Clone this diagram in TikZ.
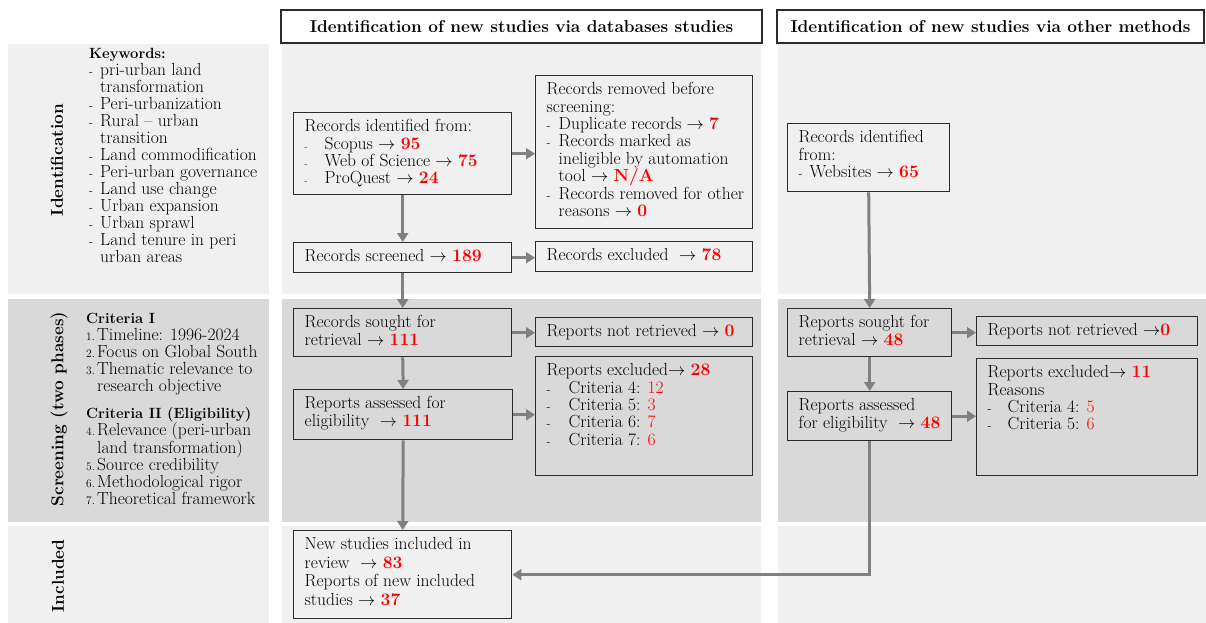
\documentclass[tikz,border=0pt]{standalone}
\usetikzlibrary{arrows.meta}

\definecolor{panellight}{HTML}{F0F0F0}
\definecolor{paneldark}{HTML}{D9D9D9}
\definecolor{boxline}{HTML}{2B2B2B}
\definecolor{flowgray}{HTML}{808080}
\definecolor{numred}{HTML}{FF0000}

\newcommand{\bodyfont}{\fontsize{17.5}{17.4}\selectfont}
\newcommand{\sidefont}{\fontsize{17.5}{17}\selectfont}
\newcommand{\headfont}{\fontsize{14.8}{17}\selectfont\bfseries}
\newcommand{\toarrow}{$\rightarrow$}
\newcommand{\num}[1]{\textcolor{numred}{\textbf{#1}}}
\newcommand{\cnum}[1]{\textcolor{numred}{#1}}
\newcommand{\dashmark}[1]{\makebox[#1][l]{\fontsize{12}{12}\selectfont -}}
\newcommand{\dotmark}[1]{\makebox[#1][l]{\fontsize{8}{8}\selectfont -}}
\newcommand{\critnum}[1]{\makebox[11pt][l]{\fontsize{11.5}{11}\selectfont #1}}
\newcommand{\cell}[3]{\parbox[t][#2][t]{#1}{\raggedright\leftskip=11pt\rightskip=-10pt plus 1fil\rule{0pt}{19pt}#3}}

\begin{document}
\begin{tikzpicture}[
    x=1pt, y=-1pt,
    box/.style={draw=boxline, line width=1.4pt, inner sep=0pt, anchor=north west, font=\bodyfont},
    side/.style={inner sep=0pt, anchor=north west, font=\sidefont},
    head/.style={draw=boxline, line width=1.4pt, fill=white, inner sep=0pt, minimum height=33pt,
                 font=\fontsize{17.2}{18}\selectfont\bfseries},
    phase/.style={rotate=90, inner sep=0pt, font=\fontsize{17.2}{18}\selectfont\bfseries},
    flow/.style={draw=flowgray, line width=3pt, -{Triangle[length=9pt,width=11pt]}}
]

\useasboundingbox (0,0) rectangle (1206,623);

% background bands
\foreach \xa/\xb in {8/269, 282/761, 778/1206} {
  \fill[panellight] (\xa,44) rectangle (\xb,294);
  \fill[paneldark] (\xa,299) rectangle (\xb,522);
  \fill[panellight] (\xa,526) rectangle (\xb,623);
}

% column headers
\node[head, minimum width=481pt] (dbHead) at (521.5,26.5) {Identification of new studies via databases studies};
\node[head, minimum width=427pt] (webHead) at (990.5,26.5) {Identification of new studies via other methods};

% phase labels
\node[phase] (idPhase) at (57,160) {Identification};
\node[phase] (scrPhase) at (59,409) {Screening (two phases)};
\node[phase] (incPhase) at (58,576) {Included};

\node[side] (keywords) at (78,39) {\cell{190pt}{235pt}{{\headfont Keywords:}\\
  \dashmark{11pt}pri-urban land\\
  \hspace*{11pt}transformation\\
  \dashmark{11pt}Peri-urbanization\\
  \dashmark{11pt}Rural -- urban\\
  \hspace*{11pt}transition\\
  \dashmark{11pt}Land commodification\\
  \dashmark{11pt}Peri-urban governance\\
  \dashmark{11pt}Land use change\\
  \dashmark{11pt}Urban expansion\\
  \dashmark{11pt}Urban sprawl\\
  \dashmark{11pt}Land tenure in peri\\
  \hspace*{11pt}urban areas}};

\node[side] (criteria) at (75,304) {\cell{194pt}{210pt}{{\headfont Criteria I}\\
  \critnum{1.}Timeline: 1996-2024\\
  \critnum{2.}Focus on Global South\\
  \critnum{3.}Thematic relevance to\\
  \hspace*{11pt}research objective\\[10pt]
  {\headfont Criteria II (Eligibility)}\\
  \critnum{4.}Relevance (peri-urban\\
  \hspace*{11pt}land transformation)\\
  \critnum{5.}Source credibility\\
  \critnum{6.}Methodological rigor\\
  \critnum{7.}Theoretical framework}};

% databases column
\node[box] (dbFound) at (293,112) {\cell{218pt}{82pt}{Records identified from:\\
  \dotmark{20pt}Scopus \toarrow{} \num{95}\\
  \dotmark{20pt}Web of Science \toarrow{} \num{75}\\
  \dotmark{20pt}ProQuest \toarrow{} \num{24}}};
\node[box] (dbRemoved) at (535,75) {\cell{217pt}{153pt}{Records removed before\\
  screening:\\
  \dashmark{12pt}Duplicate records \toarrow{} \num{7}\\
  \dashmark{12pt}Records marked as\\
  \hspace*{12pt}ineligible by automation\\
  \hspace*{12pt}tool \toarrow{} \num{N/A}\\
  \dashmark{12pt}Records removed for other\\
  \hspace*{12pt}reasons \toarrow{} \num{0}}};
\node[box] (dbScreened) at (293,242) {\cell{218pt}{30pt}{Records screened \toarrow{} \num{189}}};
\node[box] (dbExcluded) at (535,241) {\cell{217pt}{30pt}{Records excluded \ \toarrow{} \num{78}}};
\node[box] (dbSought) at (293,308) {\cell{218pt}{48pt}{Records sought for\\
  retrieval \toarrow{} \num{111}}};
\node[box] (dbNotRet) at (535,317) {\cell{217pt}{29pt}{Reports not retrieved \toarrow{} \num{0}}};
\node[box] (dbAssessed) at (293,389) {\cell{219pt}{50pt}{Reports assessed for\\
  eligibility \ \toarrow{} \num{111}}};
\node[box] (dbRepExcl) at (535,356) {\cell{217pt}{119pt}{Reports excluded\toarrow{} \num{28}\\
  \dashmark{22pt}Criteria 4: \cnum{12}\\
  \dashmark{22pt}Criteria 5: \cnum{3}\\
  \dashmark{22pt}Criteria 6: \cnum{7}\\
  \dashmark{22pt}Criteria 7: \cnum{6}}};
\node[box] (dbIncluded) at (293,530) {\cell{218pt}{88pt}{New studies included in\\[1.2pt]
  review \ \toarrow{} \num{83}\\[1.2pt]
  Reports of new included\\[1.2pt]
  studies \toarrow{} \num{37}}};

% other methods column
\node[box] (webFound) at (787,123) {\cell{162pt}{68pt}{Records identified\\
  from:\\
  \dashmark{11pt}Websites \toarrow{} \num{65}}};
\node[box] (webSought) at (787,308) {\cell{164pt}{48pt}{Reports sought for\\
  retrieval \toarrow{} \num{48}}};
\node[box] (webNotRet) at (976,316) {\cell{221pt}{29pt}{Reports not retrieved \toarrow\num{0}}};
\node[box] (webAssessed) at (787,391) {\cell{164pt}{49pt}{Reports assessed\\
  for eligibility \ \toarrow{} \num{48}}};
\node[box] (webRepExcl) at (976,358) {\cell{221pt}{117pt}{Reports excluded\toarrow{} \num{11}\\
  Reasons\\
  \dashmark{20pt}Criteria 4: \cnum{5}\\
  \dashmark{20pt}Criteria 5: \cnum{6}}};

% flow arrows
\draw[flow] (dbFound.east) -- (dbFound.east -| dbRemoved.west);
\draw[flow] (dbFound.south) -- (dbScreened.north);
\draw[flow] (dbScreened.east) -- (dbScreened.east -| dbExcluded.west);
\draw[flow] (dbScreened.south) -- (dbSought.north);
\draw[flow] (dbSought.east) -- (dbSought.east -| dbNotRet.west);
\draw[flow] (dbSought.south) -- (dbAssessed.north);
\draw[flow] (dbAssessed.east) -- (dbAssessed.east -| dbRepExcl.west);
\draw[flow] (dbAssessed.south) -- (dbIncluded.north);

\draw[flow] (webFound.south) -- (webSought.north);
\draw[flow] (webSought.east) -- (webSought.east -| webNotRet.west);
\draw[flow] (webSought.south) -- (webAssessed.north);
\draw[flow] (webAssessed.east) -- (webAssessed.east -| webRepExcl.west);
\draw[flow] (webAssessed.south) |- (dbIncluded.east);

\end{tikzpicture}
\end{document}
